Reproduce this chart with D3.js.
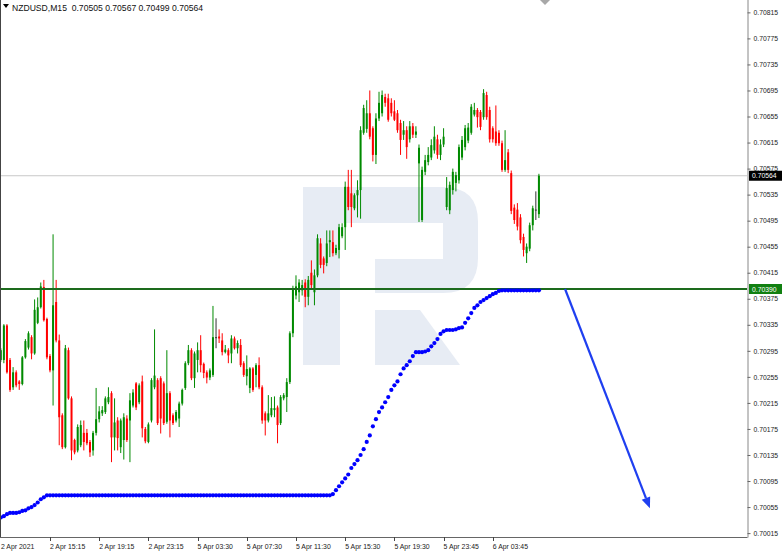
<!DOCTYPE html>
<html><head><meta charset="utf-8">
<script src="https://cdn.jsdelivr.net/npm/d3@7"></script>
<style>html,body{margin:0;padding:0;background:#fff;}svg{display:block;font-family:"Liberation Sans",Arial,sans-serif;}</style>
</head><body><svg id="c" width="782" height="554"></svg>
<script>
const symbolName = "NZDUSD,M15";
const lastOHLC = [0.70505, 0.70567, 0.70499, 0.70564];

const open = [
0.70281,0.70281,0.70334,0.70281,0.70239,0.70262,0.70248,0.70244,0.70285,0.70300,
0.70316,0.70291,0.70338,0.70362,0.70393,0.70344,0.70287,0.70265,0.70370,0.70311,
0.70196,0.70147,0.70296,0.70222,0.70158,0.70142,0.70150,0.70169,0.70169,0.70155,
0.70142,0.70169,0.70190,0.70199,0.70201,0.70216,0.70230,0.70162,0.70188,0.70147,
0.70158,0.70191,0.70188,0.70211,0.70245,0.70216,0.70248,0.70175,0.70155,0.70188,
0.70239,0.70250,0.70253,0.70245,0.70186,0.70230,0.70196,0.70188,0.70191,0.70214,
0.70238,0.70276,0.70296,0.70253,0.70281,0.70296,0.70275,0.70262,0.70254,0.70258,
0.70316,0.70317,0.70311,0.70293,0.70296,0.70291,0.70314,0.70299,0.70304,0.70276,
0.70256,0.70238,0.70268,0.70258,0.70273,0.70239,0.70199,0.70188,0.70196,0.70204,
0.70208,0.70184,0.70222,0.70224,0.70247,0.70322,0.70380,0.70385,0.70388,0.70400,
0.70378,0.70415,0.70385,0.70411,0.70460,0.70437,0.70430,0.70462,0.70462,0.70445,
0.70450,0.70471,0.70485,0.70547,0.70537,0.70514,0.70534,0.70542,0.70630,0.70636,
0.70660,0.70637,0.70596,0.70652,0.70660,0.70685,0.70683,0.70676,0.70663,0.70660,
0.70645,0.70627,0.70634,0.70620,0.70640,0.70627,0.70583,0.70496,0.70570,0.70585,
0.70592,0.70603,0.70620,0.70596,0.70612,0.70516,0.70511,0.70542,0.70553,0.70557,
0.70592,0.70608,0.70618,0.70630,0.70658,0.70665,0.70662,0.70654,0.70688,0.70665,
0.70637,0.70632,0.70630,0.70614,0.70573,0.70600,0.70568,0.70515,0.70512,0.70500,
0.70470,0.70445,0.70452,0.70488,0.70512,0.70505];

const high = [
0.70299,0.70336,0.70336,0.70284,0.70270,0.70265,0.70250,0.70287,0.70313,0.70325,
0.70319,0.70374,0.70377,0.70400,0.70404,0.70346,0.70290,0.70474,0.70404,0.70320,
0.70199,0.70304,0.70300,0.70225,0.70160,0.70182,0.70188,0.70188,0.70175,0.70158,
0.70172,0.70238,0.70210,0.70210,0.70225,0.70239,0.70233,0.70222,0.70193,0.70191,
0.70199,0.70196,0.70230,0.70236,0.70247,0.70245,0.70257,0.70178,0.70185,0.70253,
0.70328,0.70253,0.70256,0.70248,0.70296,0.70233,0.70199,0.70204,0.70217,0.70237,
0.70279,0.70304,0.70299,0.70294,0.70308,0.70319,0.70277,0.70265,0.70268,0.70364,
0.70345,0.70328,0.70322,0.70304,0.70299,0.70319,0.70317,0.70311,0.70313,0.70279,
0.70288,0.70270,0.70270,0.70276,0.70285,0.70242,0.70202,0.70227,0.70224,0.70225,
0.70211,0.70227,0.70230,0.70253,0.70325,0.70395,0.70411,0.70405,0.70404,0.70405,
0.70410,0.70434,0.70420,0.70474,0.70468,0.70440,0.70480,0.70480,0.70480,0.70458,
0.70490,0.70491,0.70555,0.70573,0.70573,0.70537,0.70557,0.70640,0.70673,0.70680,
0.70695,0.70640,0.70660,0.70693,0.70695,0.70690,0.70690,0.70683,0.70680,0.70665,
0.70650,0.70648,0.70640,0.70648,0.70645,0.70640,0.70612,0.70578,0.70596,0.70608,
0.70620,0.70640,0.70627,0.70620,0.70637,0.70562,0.70555,0.70575,0.70570,0.70612,
0.70625,0.70642,0.70645,0.70674,0.70676,0.70668,0.70665,0.70697,0.70693,0.70670,
0.70640,0.70672,0.70634,0.70618,0.70634,0.70605,0.70572,0.70520,0.70522,0.70505,
0.70475,0.70460,0.70492,0.70518,0.70540,0.70567];

const low = [
0.70278,0.70276,0.70260,0.70232,0.70235,0.70239,0.70235,0.70242,0.70283,0.70297,
0.70282,0.70289,0.70336,0.70360,0.70340,0.70282,0.70262,0.70211,0.70308,0.70150,
0.70144,0.70145,0.70220,0.70127,0.70136,0.70139,0.70147,0.70142,0.70150,0.70132,
0.70134,0.70165,0.70185,0.70195,0.70198,0.70213,0.70124,0.70142,0.70142,0.70138,
0.70128,0.70155,0.70124,0.70208,0.70204,0.70213,0.70162,0.70153,0.70153,0.70185,
0.70236,0.70181,0.70168,0.70181,0.70183,0.70162,0.70181,0.70185,0.70178,0.70211,
0.70235,0.70273,0.70250,0.70238,0.70262,0.70262,0.70253,0.70245,0.70250,0.70255,
0.70299,0.70307,0.70288,0.70291,0.70276,0.70276,0.70297,0.70291,0.70270,0.70255,
0.70242,0.70230,0.70232,0.70239,0.70236,0.70183,0.70165,0.70185,0.70193,0.70193,
0.70153,0.70181,0.70219,0.70201,0.70244,0.70316,0.70374,0.70370,0.70380,0.70362,
0.70365,0.70390,0.70365,0.70408,0.70422,0.70414,0.70425,0.70439,0.70440,0.70442,
0.70437,0.70468,0.70450,0.70511,0.70485,0.70511,0.70500,0.70498,0.70627,0.70630,
0.70620,0.70586,0.70582,0.70648,0.70655,0.70670,0.70647,0.70655,0.70648,0.70630,
0.70596,0.70619,0.70590,0.70615,0.70622,0.70622,0.70493,0.70493,0.70565,0.70580,
0.70588,0.70598,0.70590,0.70588,0.70608,0.70511,0.70505,0.70535,0.70540,0.70552,
0.70588,0.70603,0.70614,0.70627,0.70655,0.70638,0.70634,0.70650,0.70650,0.70615,
0.70615,0.70610,0.70610,0.70570,0.70570,0.70568,0.70505,0.70490,0.70480,0.70460,
0.70440,0.70430,0.70448,0.70480,0.70496,0.70499];

const close = [
0.70296,0.70334,0.70262,0.70235,0.70262,0.70242,0.70244,0.70285,0.70310,0.70322,
0.70291,0.70358,0.70362,0.70394,0.70342,0.70285,0.70265,0.70365,0.70311,0.70193,
0.70147,0.70299,0.70222,0.70142,0.70139,0.70178,0.70181,0.70155,0.70153,0.70139,
0.70169,0.70190,0.70202,0.70204,0.70222,0.70224,0.70162,0.70185,0.70161,0.70188,
0.70193,0.70158,0.70219,0.70231,0.70208,0.70242,0.70176,0.70156,0.70182,0.70250,
0.70257,0.70184,0.70191,0.70184,0.70230,0.70188,0.70184,0.70201,0.70214,0.70235,
0.70276,0.70296,0.70253,0.70291,0.70296,0.70273,0.70261,0.70254,0.70265,0.70316,
0.70316,0.70314,0.70293,0.70297,0.70288,0.70314,0.70299,0.70307,0.70273,0.70258,
0.70267,0.70268,0.70235,0.70273,0.70239,0.70188,0.70188,0.70199,0.70207,0.70207,
0.70181,0.70224,0.70227,0.70247,0.70322,0.70390,0.70394,0.70400,0.70396,0.70378,
0.70404,0.70396,0.70411,0.70468,0.70427,0.70427,0.70460,0.70465,0.70445,0.70453,
0.70485,0.70485,0.70547,0.70516,0.70516,0.70534,0.70542,0.70634,0.70668,0.70660,
0.70624,0.70596,0.70652,0.70676,0.70688,0.70676,0.70650,0.70660,0.70650,0.70634,
0.70619,0.70634,0.70608,0.70640,0.70627,0.70632,0.70607,0.70573,0.70588,0.70596,
0.70611,0.70624,0.70596,0.70612,0.70624,0.70545,0.70550,0.70570,0.70565,0.70608,
0.70619,0.70637,0.70638,0.70670,0.70665,0.70654,0.70639,0.70691,0.70654,0.70620,
0.70620,0.70614,0.70614,0.70573,0.70588,0.70573,0.70510,0.70496,0.70486,0.70465,
0.70450,0.70455,0.70488,0.70514,0.70512,0.70564];

// blue dotted indicator, one value per bar
const signal = [
0.70039,0.70041,0.70044,0.70046,0.70046,0.70046,0.70047,0.70049,0.70050,0.70053,
0.70055,0.70058,0.70062,0.70067,0.70070,0.70073,0.70073,0.70073,0.70073,0.70073,
0.70073,0.70073,0.70073,0.70073,0.70073,0.70073,0.70073,0.70073,0.70073,0.70073,
0.70073,0.70073,0.70073,0.70073,0.70073,0.70073,0.70073,0.70073,0.70073,0.70073,
0.70073,0.70073,0.70073,0.70073,0.70073,0.70073,0.70073,0.70073,0.70073,0.70073,
0.70073,0.70073,0.70073,0.70073,0.70073,0.70073,0.70073,0.70073,0.70073,0.70073,
0.70073,0.70073,0.70073,0.70073,0.70073,0.70073,0.70073,0.70073,0.70073,0.70073,
0.70073,0.70073,0.70073,0.70073,0.70073,0.70073,0.70073,0.70073,0.70073,0.70073,
0.70073,0.70073,0.70073,0.70073,0.70073,0.70073,0.70073,0.70073,0.70073,0.70073,
0.70073,0.70073,0.70073,0.70073,0.70073,0.70073,0.70073,0.70073,0.70073,0.70073,
0.70073,0.70073,0.70073,0.70073,0.70073,0.70073,0.70073,0.70073,0.70075,0.70081,
0.70087,0.70093,0.70099,0.70105,0.70115,0.70121,0.70127,0.70135,0.70144,0.70155,
0.70165,0.70179,0.70190,0.70201,0.70208,0.70216,0.70224,0.70235,0.70242,0.70248,
0.70259,0.70268,0.70273,0.70279,0.70287,0.70293,0.70293,0.70293,0.70294,0.70296,
0.70302,0.70307,0.70313,0.70321,0.70325,0.70327,0.70327,0.70327,0.70328,0.70330,
0.70331,0.70338,0.70345,0.70353,0.70361,0.70365,0.70370,0.70373,0.70376,0.70379,
0.70382,0.70384,0.70387,0.70388,0.70388,0.70388,0.70388,0.70388,0.70388,0.70388,
0.70388,0.70388,0.70388,0.70388,0.70388,0.70388];

const priceTicks = [0.70015,0.70055,0.70095,0.70135,0.70175,0.70215,0.70255,0.70295,0.70335,0.70375,
0.70415,0.70455,0.70495,0.70535,0.70575,0.70615,0.70655,0.70695,0.70735,0.70775,0.70815];
const timeTickBars = [16,32,48,64,80,96,112,128,144,160];
const timeTickLabels = ["2 Apr 15:15","2 Apr 19:15","2 Apr 23:15","5 Apr 03:30","5 Apr 07:30",
"5 Apr 11:30","5 Apr 15:30","5 Apr 19:30","5 Apr 23:45","6 Apr 03:45"];
const firstTimeLabel = "2 Apr 2021";
const levelPrice = 0.70390;
const bidPrice = 0.70564;
const forecastBars = [183.5, 211.1];
const forecastPrices = [0.70390, 0.70053];

const W = 782, H = 554, PR = 747, PB = 537;
const svg = d3.select("#c");
const x = d3.scaleLinear().domain([-0.26, 242.67]).range([0, PR]);
const y = d3.scaleLinear().domain([0.70009, 0.70834]).range([PB, 0]);

svg.append("rect").attr("width", W).attr("height", H).attr("fill", "#fff");
svg.append("defs").append("clipPath").attr("id", "plot")
  .append("rect").attr("x", 0).attr("y", 0).attr("width", PR).attr("height", PB);
const plot = svg.append("g").attr("clip-path", "url(#plot)");

// watermark logo
const logo = plot.append("g").attr("fill", "#e7ecf4");
logo.append("path").attr("d", "M303,187H340V365H303Z");
logo.append("path").attr("d", "M340,187H443Q478,187 478,222V258Q478,293 443,293H375V259H443V223H340Z");
logo.append("path").attr("d", "M375,310H420L460,365H375Z");

// bid line
plot.append("line").attr("x1", 0).attr("x2", PR).attr("y1", y(bidPrice)).attr("y2", y(bidPrice))
  .attr("stroke", "#c8c8c8").attr("stroke-width", 1);

// candles
const idx = d3.range(open.length);
const col = i => close[i] > open[i] ? "#008a00" : (close[i] < open[i] ? "#ff0000" : "#333333");
const cg = plot.append("g");
cg.selectAll("line").data(idx).join("line")
  .attr("x1", i => x(i)).attr("x2", i => x(i))
  .attr("y1", i => y(high[i])).attr("y2", i => y(low[i]))
  .attr("stroke", col).attr("stroke-width", 1);
cg.selectAll("rect").data(idx).join("rect")
  .attr("x", i => x(i) - 1).attr("width", 2)
  .attr("y", i => y(Math.max(open[i], close[i])))
  .attr("height", i => Math.max(1, Math.abs(y(open[i]) - y(close[i]))))
  .attr("fill", col);

// level line
plot.append("line").attr("x1", 0).attr("x2", PR).attr("y1", y(levelPrice)).attr("y2", y(levelPrice))
  .attr("stroke", "#1d6b1d").attr("stroke-width", 2);

// indicator dots
plot.append("g").selectAll("circle").data(d3.range(signal.length)).join("circle")
  .attr("cx", i => x(i)).attr("cy", i => y(signal[i])).attr("r", 2.1).attr("fill", "#0000ff");

// forecast arrow
const ax1 = x(forecastBars[0]), ay1 = y(forecastPrices[0]), ax2 = x(forecastBars[1]), ay2 = y(forecastPrices[1]);
const ang = Math.atan2(ay2 - ay1, ax2 - ax1);
const hl = 11, hw = 4.5;
const bx = ax2 - hl * Math.cos(ang), by = ay2 - hl * Math.sin(ang);
plot.append("line").attr("x1", ax1).attr("y1", ay1).attr("x2", bx).attr("y2", by)
  .attr("stroke", "#1f3ff0").attr("stroke-width", 2.2);
plot.append("path").attr("d", `M${ax2},${ay2}L${bx + hw*Math.sin(ang)},${by - hw*Math.cos(ang)}L${bx - hw*Math.sin(ang)},${by + hw*Math.cos(ang)}Z`)
  .attr("fill", "#1f3ff0");

// frame
svg.append("line").attr("x1", 0.5).attr("x2", 0.5).attr("y1", 0).attr("y2", PB).attr("stroke", "#444");
svg.append("line").attr("x1", 0).attr("x2", PR + 0.5).attr("y1", PB + 0.5).attr("y2", PB + 0.5).attr("stroke", "#666");

// right price axis
const ra = svg.append("g").attr("transform", `translate(${PR + 0.5},0)`)
  .call(d3.axisRight(y).tickValues(priceTicks).tickSize(3).tickSizeOuter(0).tickFormat(d3.format(".5f")));
ra.select(".domain").attr("stroke", "#888").attr("d", `M0.5,0V${PB + 0.5}`);
ra.selectAll(".tick line").attr("stroke", "#666");
ra.selectAll(".tick text").attr("font-size", 6.8).attr("fill", "#222").attr("x", 6)
  .attr("font-family", "Liberation Sans, Arial, sans-serif");

// price labels
function priceLabel(p, bg) {
  const g = svg.append("g");
  g.append("rect").attr("x", PR + 2).attr("y", y(p) - 5).attr("width", 33).attr("height", 10).attr("fill", bg);
  g.append("text").attr("x", PR + 5).attr("y", y(p) + 2.5).attr("font-size", 6.8).attr("fill", "#fff")
    .text(d3.format(".5f")(p));
}
priceLabel(bidPrice, "#000");
priceLabel(levelPrice, "#118011");

// time axis
const ta = svg.append("g");
ta.selectAll("line").data(timeTickBars).join("line")
  .attr("x1", d => Math.round(x(d)) + 0.5).attr("x2", d => Math.round(x(d)) + 0.5)
  .attr("y1", PB).attr("y2", PB + 4).attr("stroke", "#444");
ta.selectAll("text").data(timeTickBars).join("text")
  .attr("x", d => x(d)).attr("y", 549).attr("font-size", 6.9).attr("fill", "#222")
  .text((d, k) => timeTickLabels[k]);
ta.append("text").attr("x", 1).attr("y", 549).attr("font-size", 6.9).attr("fill", "#222").text(firstTimeLabel);

// chart shift marker
svg.append("path").attr("d", "M540,0H550L545,5Z").attr("fill", "#a8a8a8");

// header
svg.append("path").attr("d", "M3,4H9L6,8Z").attr("fill", "#000");
svg.append("text").attr("x", 12).attr("y", 10.5).attr("font-size", 8.6).attr("fill", "#111")
  .style("white-space", "pre")
  .text(symbolName + "  " + lastOHLC.map(d3.format(".5f")).join(" "));
</script></body></html>
